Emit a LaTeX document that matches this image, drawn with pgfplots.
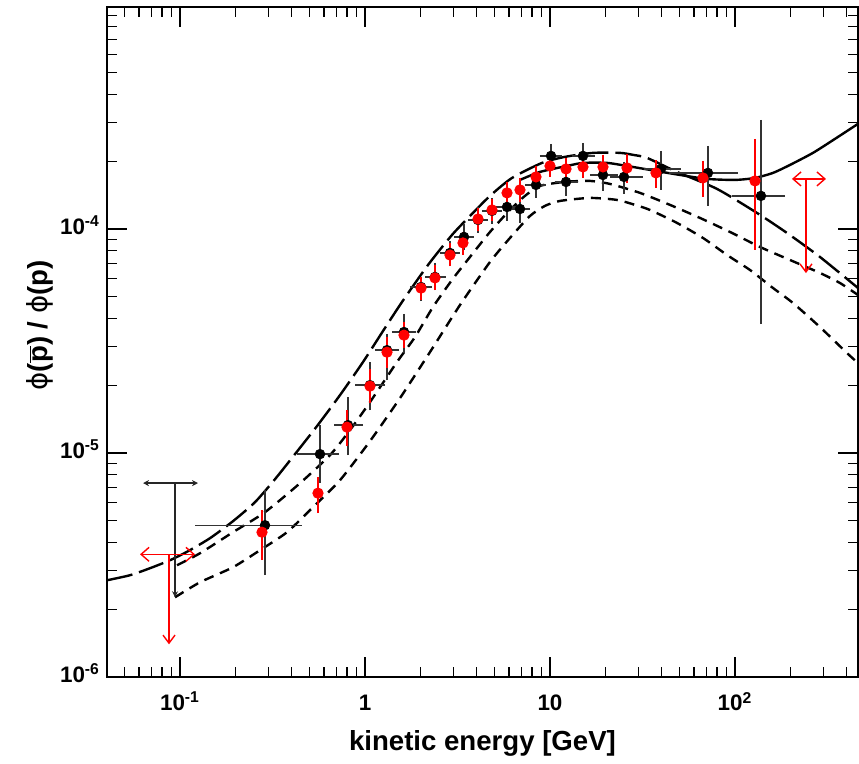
\documentclass[border=0pt]{standalone}
\usepackage{fontspec}
\setmainfont{Liberation Sans}
\newfontfamily\dejavu{DejaVu Sans}
\usepackage{pgfplots}
\usepackage{pgfplotstable}
\pgfplotsset{compat=1.18}
\usetikzlibrary{arrows.meta}

\pgfplotstableread{
E y ylo yhi Elo Ehi
0.2880 4.76e-6 2.94e-6 6.62e-6 0.1251 0.4396
0.5711 9.89e-6 7.57e-6 1.292e-5 0.4454 0.6971
0.8092 1.332e-5 1.009e-5 1.72e-5 0.7058 0.9397
1.064 2.01e-5 1.60e-5 2.47e-5 0.9166 1.236
1.315 2.88e-5 2.18e-5 3.29e-5 1.176 1.471
1.625 3.47e-5 2.88e-5 4.05e-5 1.452 1.817
2.008 5.51e-5 4.92e-5 5.92e-5 1.817 2.218
2.389 6.11e-5 5.51e-5 6.84e-5 2.191 2.640
2.880 7.82e-5 7.05e-5 8.58e-5 2.640 3.143
3.429 9.22e-5 8.32e-5 1.022e-4 3.143 3.741
4.082 1.098e-4 9.91e-5 1.217e-4 3.741 4.453
4.859 1.205e-4 1.087e-4 1.335e-4 4.453 5.301
5.857 1.255e-4 1.121e-4 1.391e-4 5.301 6.390
6.884 1.229e-4 1.098e-4 1.363e-4 6.390 7.510
8.402 1.574e-4 1.420e-4 1.727e-4 7.604 9.166
10.13 2.121e-4 1.913e-4 2.326e-4 9.166 11.19
12.21 1.623e-4 1.450e-4 1.799e-4 11.05 13.65
15.08 2.121e-4 1.894e-4 2.350e-4 13.65 16.87
19.34 1.744e-4 1.526e-4 2.036e-4 17.08 22.46
25.12 1.709e-4 1.480e-4 1.933e-4 21.90 30.66
39.81 1.855e-4 1.542e-4 2.165e-4 33.45 49.19
71.45 1.781e-4 1.307e-4 2.279e-4 45.65 100
138.2 1.406e-4 3.88e-5 2.979e-4 100 179.6
}\blackdata

\pgfplotstableread{
E y ylo yhi
0.2775 4.43e-6 3.43e-6 5.39e-6
0.5570 6.62e-6 5.56e-6 7.57e-6
0.7993 1.305e-5 1.107e-5 1.508e-5
1.064 1.99e-5 1.72e-5 2.30e-5
1.315 2.82e-5 2.47e-5 3.19e-5
1.625 3.36e-5 3.03e-5 3.73e-5
2.008 5.45e-5 4.97e-5 5.92e-5
2.389 6.05e-5 5.51e-5 6.70e-5
2.880 7.66e-5 7.05e-5 8.40e-5
3.386 8.67e-5 7.90e-5 9.41e-5
4.082 1.109e-4 1.011e-4 1.205e-4
4.859 1.217e-4 1.121e-4 1.321e-4
5.857 1.450e-4 1.335e-4 1.574e-4
6.884 1.495e-4 1.363e-4 1.640e-4
8.402 1.709e-4 1.574e-4 1.855e-4
10.00 1.913e-4 1.762e-4 2.078e-4
12.21 1.855e-4 1.709e-4 2.015e-4
15.08 1.894e-4 1.744e-4 2.057e-4
19.34 1.894e-4 1.727e-4 2.078e-4
26.08 1.875e-4 1.657e-4 2.100e-4
37.41 1.781e-4 1.574e-4 1.973e-4
67.14 1.691e-4 1.435e-4 1.953e-4
128.3 1.640e-4 8.32e-5 2.449e-4
}\reddata

\begin{document}
\begin{tikzpicture}
\begin{axis}[
 name=ax, scale only axis, width=375.5pt, height=335pt,
 xmode=log, ymode=log,
 xmin=0.0403, xmax=462.4, ymin=1e-6, ymax=9.8e-4,
 axis line style={line width=1pt},
 every tick/.style={black, line width=0.6pt},
 major tick length=10pt, minor tick length=5pt,
 xtick={0.1,1,10,100},
 xticklabels={10\textsuperscript{-1},1,10,10\textsuperscript{2}},
 minor xtick={0.05,0.06,0.07,0.08,0.09,0.2,0.3,0.4,0.5,0.6,0.7,0.8,0.9,2,3,4,5,6,7,8,9,20,30,40,50,60,70,80,90,200,300,400},
 ytick={1e-6,1e-5,1e-4},
 yticklabels={10\textsuperscript{-6},10\textsuperscript{-5},10\textsuperscript{-4}},
 minor ytick={2e-6,3e-6,4e-6,5e-6,6e-6,7e-6,8e-6,9e-6,2e-5,3e-5,4e-5,5e-5,6e-5,7e-5,8e-5,9e-5,2e-4,3e-4,4e-4,5e-4,6e-4,7e-4,8e-4,9e-4},
 tick label style={font=\fontsize{11.2}{13}\selectfont\bfseries},
 xticklabel style={yshift=-4pt},
 typeset ticklabels with strut,
 xlabel={kinetic energy [GeV]},
 ylabel={{\dejavu\mdseries ϕ}(\makebox{$\overline{\mbox{p}}$}) / {\dejavu\mdseries ϕ}(p)},
 label style={font=\fontsize{13.8}{16}\selectfont\bfseries},
 xlabel style={at={(axis description cs:0.5,-0.1104)}, anchor=base},
 ylabel style={at={(axis description cs:-0.0786,0.525)}, anchor=base},
]
% long dashed model
\addplot[black, line width=1.2pt, dash pattern=on 13pt off 3.5pt, smooth, tension=0.4] coordinates {
(0.0403,2.704e-6) (0.05366,2.848e-6) (0.0688,3.060e-6) (0.08830,3.322e-6) (0.1105,3.645e-6)
(0.1452,4.166e-6) (0.1934,4.963e-6) (0.2543,6.034e-6) (0.3263,7.645e-6) (0.4183,9.888e-6)
(0.5502,1.319e-5) (0.7327,1.814e-5) (0.9754,2.548e-5) (1.251,3.505e-5) (1.585,4.724e-5)
(2.191,6.912e-5) (2.953,9.410e-5) (3.695,1.144e-4) (4.739,1.406e-4) (6.233,1.691e-4)
(9.053,1.974e-4) (12.05,2.100e-4) (17.08,2.188e-4) (23.90,2.188e-4) (28.10,2.144e-4)
(33.45,2.078e-4) (48.59,1.799e-4) (79.94,1.511e-4) (131.5,1.180e-4) (191.0,9.607e-5)
(288.0,7.505e-5) (462.4,5.456e-5)};
% upper short dashed
\addplot[black, line width=1.2pt, dash pattern=on 5pt off 3.5pt, smooth, tension=0.4] coordinates {
(0.09634,3.156e-6) (0.1283,3.570e-6) (0.1934,4.432e-6) (0.2880,5.445e-6) (0.4454,7.337e-6)
(0.6468,9.786e-6) (0.8297,1.266e-5) (1.064,1.688e-5) (1.489,2.548e-5) (1.864,3.296e-5)
(2.331,4.487e-5) (2.953,5.924e-5) (3.695,7.505e-5) (4.739,9.705e-5) (6.079,1.217e-4)
(7.327,1.406e-4) (8.830,1.558e-4) (12.05,1.624e-4) (16.45,1.640e-4) (21.10,1.590e-4)
(30.66,1.450e-4) (44.53,1.282e-4) (64.68,1.121e-4) (93.97,9.705e-5) (136.5,8.318e-5)
(198.3,7.277e-5) (288.0,6.367e-5) (369.5,5.742e-5) (462.4,5.076e-5)};
% lower short dashed
\addplot[black, line width=1.2pt, dash pattern=on 5pt off 3.5pt, smooth, tension=0.4] coordinates {
(0.0940,2.270e-6) (0.1283,2.649e-6) (0.1934,3.092e-6) (0.2706,3.683e-6) (0.3788,4.432e-6)
(0.5235,5.733e-6) (0.7327,7.567e-6) (1.064,1.130e-5) (1.546,1.759e-5) (2.245,2.823e-5)
(3.263,4.581e-5) (4.739,7.129e-5) (6.079,9.125e-5) (7.796,1.144e-4) (9.397,1.269e-4)
(11.33,1.335e-4) (16.45,1.377e-4) (23.02,1.349e-4) (28.80,1.282e-4) (34.71,1.217e-4)
(48.59,1.065e-4) (67.14,9.125e-5) (90.53,7.662e-5) (120.5,6.566e-5) (160.5,5.456e-5)
(205.8,4.676e-5) (288.0,3.652e-5) (403.2,2.795e-5) (462.4,2.522e-5)};
% solid model
\addplot[black, line width=1.2pt, smooth, tension=0.4] coordinates {
(6.884,1.657e-4) (8.830,1.799e-4) (12.36,1.913e-4) (15.08,1.974e-4) (20.33,1.974e-4)
(26.08,1.913e-4) (34.71,1.837e-4) (50.43,1.744e-4) (70.57,1.674e-4) (100,1.657e-4)
(128.3,1.691e-4) (160.5,1.781e-4) (198.3,1.933e-4) (264.0,2.188e-4) (347.1,2.526e-4)
(462.4,2.949e-4)};

% upper limits
\addplot[black!85, line width=0.7pt, {Stealth[length=3pt,width=3pt]}-{Stealth[length=3pt,width=3pt]}] coordinates {(0.0631,7.34e-6) (0.1251,7.34e-6)};
\addplot[black!85, line width=0.7pt, -{Stealth[length=3pt,width=3pt]}] coordinates {(0.0940,7.34e-6) (0.0940,2.27e-6)};
\addplot[red, line width=0.7pt, {Straight Barb[length=4pt,width=7pt]}-{Straight Barb[length=4pt,width=7pt]}] coordinates {(0.0608,3.53e-6) (0.1205,3.53e-6)};
\addplot[red, line width=0.7pt, -{Straight Barb[length=4pt,width=6pt]}] coordinates {(0.0872,3.53e-6) (0.0872,1.40e-6)};
\addplot[red, line width=0.7pt, {Straight Barb[length=4pt,width=7pt]}-{Straight Barb[length=4pt,width=7pt]}] coordinates {(203.3,1.674e-4) (310.4,1.674e-4)};
\addplot[red, line width=0.7pt, -{Straight Barb[length=4pt,width=6pt]}] coordinates {(242.0,1.674e-4) (242.0,6.36e-5)};

% black data points
\addplot[black, only marks, mark=*, mark size=2.4pt,
 error bars/.cd, x dir=both, x explicit, y dir=both, y explicit,
 error bar style={line width=0.7pt, black!80},
 error mark options={mark size=1.5pt, line width=0.7pt, black!80}]
 table[x=E, y=y,
  x error plus expr=\thisrow{Ehi}-\thisrow{E},
  x error minus expr=\thisrow{E}-\thisrow{Elo},
  y error plus expr=\thisrow{yhi}-\thisrow{y},
  y error minus expr=\thisrow{y}-\thisrow{ylo}] {\blackdata};
% red data points
\addplot[red, only marks, mark=*, mark size=2.6pt,
 error bars/.cd, y dir=both, y explicit,
 error bar style={line width=0.7pt, red},
 error mark options={mark size=1.5pt, line width=0.7pt, red}]
 table[x=E, y=y,
  y error plus expr=\thisrow{yhi}-\thisrow{y},
  y error minus expr=\thisrow{y}-\thisrow{ylo}] {\reddata};
\end{axis}
\path ([shift={(-53.5pt,-42pt)}]ax.south west) rectangle ([shift={(0.5pt,3.5pt)}]ax.north east);
\end{tikzpicture}
\end{document}
